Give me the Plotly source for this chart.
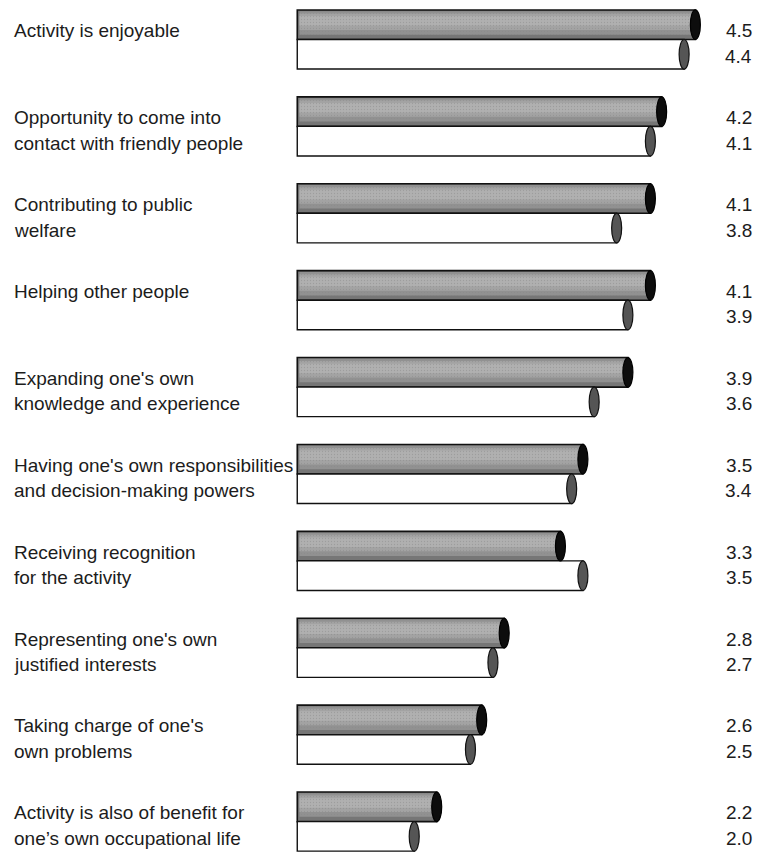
import plotly.graph_objects as go

# ---- data ----
label_line1 = [
    "Activity is enjoyable",
    "Opportunity to come into",
    "Contributing to public",
    "Helping other people",
    "Expanding one's own",
    "Having one's own responsibilities",
    "Receiving recognition",
    "Representing one's own",
    "Taking charge of one's",
    "Activity is also of benefit for",
]
label_line2 = [
    "",
    "contact with friendly people",
    "welfare",
    "",
    "knowledge and experience",
    "and decision-making powers",
    "for the activity",
    "justified interests",
    "own problems",
    "one\u2019s own occupational life",
]
gray_values = [4.5, 4.2, 4.1, 4.1, 3.9, 3.5, 3.3, 2.8, 2.6, 2.2]
white_values = [4.4, 4.1, 3.8, 3.9, 3.6, 3.4, 3.5, 2.7, 2.5, 2.0]

# ---- layout constants ----
W, H = 758, 853
BASE = 0.96
X0_PX, PX_PER_UNIT = 189.3, 112.46
Y0_PX, PX_PER_GROUP = 39.5, 86.9
OFF = 0.17
BAR_W = 0.34
CAP_HALF = 5.0 / PX_PER_UNIT

xr = [-X0_PX / PX_PER_UNIT, (W - X0_PX) / PX_PER_UNIT]
yr = [(H - Y0_PX) / PX_PER_GROUP, -Y0_PX / PX_PER_GROUP]

n = len(gray_values)
pos = list(range(n))
y_gray = [p - OFF for p in pos]
y_white = [p + OFF for p in pos]

fig = go.Figure()
# gray cylinder body (dark base + lighter bands for shading)
fig.add_trace(go.Bar(
    orientation="h", y=y_gray, x=[v - BASE for v in gray_values], base=BASE,
    width=BAR_W,
    marker=dict(color="#767676", line=dict(color="#111111", width=1.6)),
    hoverinfo="skip", showlegend=False,
))
for w, dy, col in [(0.27, -0.02, "#919191"), (0.19, -0.035, "#a3a3a3"), (0.11, -0.045, "#b0b0b0")]:
    fig.add_trace(go.Bar(
        orientation="h", y=[y + dy for y in y_gray],
        x=[v - BASE - 0.02 for v in gray_values], base=BASE + 0.02,
        width=w,
        marker=dict(color=col, line=dict(width=0),
                    pattern=dict(shape=".", fgcolor="#8a8a8a", size=3, solidity=0.15)),
        hoverinfo="skip", showlegend=False,
    ))
fig.add_trace(go.Bar(
    orientation="h", y=y_white, x=[v - BASE for v in white_values], base=BASE,
    width=BAR_W,
    marker=dict(color="#ffffff", line=dict(color="#111111", width=1.4)),
    hoverinfo="skip", showlegend=False,
))

shapes = []
for yc, v in zip(y_gray, gray_values):
    shapes.append(dict(type="circle", xref="x", yref="y",
                       x0=v - CAP_HALF, x1=v + CAP_HALF,
                       y0=yc - BAR_W / 2, y1=yc + BAR_W / 2,
                       fillcolor="#0d0d0d", line=dict(color="#000000", width=1.2),
                       layer="above"))
for yc, v in zip(y_white, white_values):
    shapes.append(dict(type="circle", xref="x", yref="y",
                       x0=v - CAP_HALF, x1=v + CAP_HALF,
                       y0=yc - BAR_W / 2, y1=yc + BAR_W / 2,
                       fillcolor="#555555", line=dict(color="#111111", width=1.2),
                       layer="above"))

FONT = dict(family="Liberation Sans, Arial, sans-serif", size=19, color="#1c1c1c")
ann = []
for i in range(n):
    ann.append(dict(xref="paper", yref="y", x=12 / W, y=y_gray[i], yshift=-6,
                    text=label_line1[i], showarrow=False, xanchor="left",
                    yanchor="middle", font=FONT))
    if label_line2[i]:
        ann.append(dict(xref="paper", yref="y", x=12 / W, y=y_white[i], yshift=-2,
                        text=label_line2[i], showarrow=False, xanchor="left",
                        yanchor="middle", font=FONT))
    ann.append(dict(xref="paper", yref="y", x=754 / W, y=y_gray[i], yshift=-6,
                    text=f"{gray_values[i]:.1f}", showarrow=False, xanchor="right",
                    yanchor="middle", font=FONT))
    ann.append(dict(xref="paper", yref="y", x=754 / W, y=y_white[i], yshift=-2,
                    text=f"{white_values[i]:.1f}", showarrow=False, xanchor="right",
                    yanchor="middle", font=FONT))

fig.update_layout(
    width=W, height=H,
    margin=dict(l=0, r=0, t=0, b=0),
    paper_bgcolor="white", plot_bgcolor="white",
    barmode="overlay",
    xaxis=dict(range=xr, visible=False, fixedrange=True),
    yaxis=dict(range=yr, visible=False, fixedrange=True),
    shapes=shapes, annotations=ann,
)

fig.write_html("out.html", config={"displayModeBar": False},
               post_script="document.body.style.margin='0';document.body.style.padding='0';")
